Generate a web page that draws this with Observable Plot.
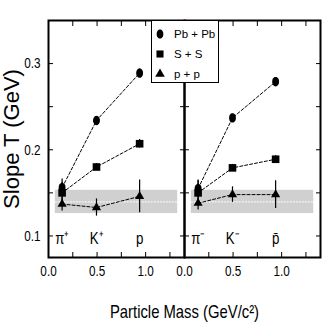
<!DOCTYPE html>
<html><head><meta charset="utf-8">
<script src="https://cdn.jsdelivr.net/npm/d3@7"></script>
<script src="https://cdn.jsdelivr.net/npm/@observablehq/plot@0.6"></script>
<style>
body{margin:0;background:#fff;}
#wrap{position:relative;width:327px;height:327px;font-family:"Liberation Sans",Arial,sans-serif;}
#legend{position:absolute;left:151px;top:20px;width:68px;height:63px;border:1.5px solid #000;background:#fff;box-sizing:border-box;}
#legend svg{display:block;}
</style></head><body><div id="wrap"></div>
<script>
const panels = ["plus", "minus"];
const particles = ["π⁺", "K⁺", "p", "π⁻", "K⁻", "p̄"];
const particlePanel = ["plus", "plus", "plus", "minus", "minus", "minus"];
const masses = [0.14, 0.494, 0.938, 0.14, 0.494, 0.938];
const systems = ["Pb + Pb", "S + S", "p + p"];
const pbpb = [0.156, 0.234, 0.289, 0.155, 0.237, 0.279];
const ss = [0.150, 0.180, 0.207, 0.150, 0.179, 0.189];
const pp = [0.137, 0.133, 0.146, 0.138, 0.148, 0.148];
const pbpbErr = [0.010, 0.004, 0.004, 0.010, 0.004, 0.005];
const ssErr = [0.012, 0.004, 0.005, 0.014, 0.004, 0.004];
const ppErr = [0.008, 0.010, 0.019, 0.008, 0.009, 0.016];
const bandLow = 0.126, bandHigh = 0.153;
const bandMassRange = [0.07, 1.33];
const yTickLabels = [0.1, 0.2, 0.3];
const yTicks = [0.1, 0.15, 0.2, 0.25, 0.3];
const xTickLabels = [0, 0.5, 1];
const xTicks = [0, 0.25, 0.5, 0.75, 1, 1.25];

const seriesVals = [pbpb, ss, pp];
const seriesErr = [pbpbErr, ssErr, ppErr];
const rows = [];
systems.forEach((s, si) => {
  masses.forEach((m, i) => {
    rows.push({system: s, panel: particlePanel[i], mass: m, T: seriesVals[si][i], err: seriesErr[si][i]});
  });
});
const labels = particles.map((p, i) => ({name: p, panel: particlePanel[i], mass: masses[i]}));
const band = panels.map(p => ({panel: p, x1: bandMassRange[0], x2: bandMassRange[1], y1: bandLow, y2: bandHigh}));

const font = '"Liberation Sans",Arial,sans-serif';

// vertically elongated ellipse, like the scanned Pb+Pb markers
const ellipse = {
  draw(context, size) {
    const r = Math.sqrt(size / Math.PI);
    const rx = r * 0.8, ry = r * 1.1;
    const n = 24;
    for (let k = 0; k <= n; k++) {
      const a = (k / n) * 2 * Math.PI;
      const px = rx * Math.cos(a), py = ry * Math.sin(a);
      if (k === 0) context.moveTo(px, py); else context.lineTo(px, py);
    }
    context.closePath();
  }
};

const chart = Plot.plot({
  width: 327, height: 327,
  marginLeft: 48, marginRight: 7, marginTop: 20, marginBottom: 70,
  style: {fontFamily: font, fontSize: "13px", color: "#000", background: "#fff"},
  fx: {domain: panels, padding: 0, axis: null},
  x: {domain: [0, 1.4]},
  y: {domain: [0.075, 0.35]},
  symbol: {domain: systems, range: [ellipse, "square", "triangle"]},
  marks: [
    Plot.rect(band, {x1: "x1", x2: "x2", y1: "y1", y2: "y2", fx: "panel", fill: "#d0d0d0"}),
    Plot.ruleY(band, {x1: "x1", x2: "x2", y: d => (d.y1 + d.y2) / 2, fx: "panel", stroke: "#fff", strokeWidth: 1, strokeDasharray: "2,1"}),
    Plot.line(rows, {x: "mass", y: "T", z: "system", fx: "panel", stroke: "#000", strokeWidth: 1, strokeDasharray: "3,2"}),
    Plot.ruleX(rows, {x: "mass", y1: d => d.T - d.err, y2: d => d.T + d.err, fx: "panel", stroke: "#000", strokeWidth: 1.2}),
    Plot.dot(rows, {filter: d => d.system !== "p + p", x: "mass", y: "T", symbol: "system", fx: "panel", fill: "#000", stroke: "none", r: 4.3}),
    Plot.dot(rows, {filter: d => d.system === "p + p", x: "mass", y: "T", symbol: "system", fx: "panel", fill: "#000", stroke: "none", r: 3.4}),
    Plot.text(labels, {x: "mass", y: 0.097, text: "name", fx: "panel", fontSize: 17, fill: "#000"}),
    Plot.frame({stroke: "#000", strokeWidth: 2}),
    Plot.axisY({anchor: "left", ticks: yTickLabels, tickSize: 0, tickPadding: 8, tickFormat: d3.format(".1f"), fontSize: 15, label: null}),
    Plot.axisY({anchor: "left", ticks: [], tickSize: 0, label: "Slope T (GeV)", labelAnchor: "center", labelArrow: "none", labelOffset: 45, fontSize: 22}),
    Plot.axisY({anchor: "left", ticks: yTicks, tickSize: -5, tickFormat: () => "", label: null, facetAnchor: null}),
    Plot.axisY({anchor: "right", ticks: yTicks, tickSize: -5, tickFormat: () => "", label: null, facetAnchor: null}),
    Plot.axisX({anchor: "bottom", ticks: xTickLabels, tickSize: 0, tickPadding: 8, fontSize: 15, label: null, facetAnchor: null}),
    Plot.axisX({anchor: "bottom", ticks: xTicks, tickSize: -5, tickFormat: () => "", label: null, facetAnchor: null}),
    Plot.axisX({anchor: "top", ticks: xTicks, tickSize: -5, tickFormat: () => "", label: null, facetAnchor: null}),
    Plot.axisFx({anchor: "bottom", tickSize: 0, tickFormat: () => "", label: "Particle Mass (GeV/c²)", labelAnchor: "center", labelArrow: "none", labelOffset: 60, fontSize: 19})
  ]
});
const wrap = document.getElementById("wrap");
wrap.appendChild(chart);

// condense the lettering to mimic the narrow typeface of the original
d3.select(chart).selectAll("text").each(function() {
  const t = this.textContent;
  if (!t || !t.trim()) return;
  const f = t.startsWith("Slope") ? 1.0 : 0.78;
  if (f === 1) return;
  const L = this.getComputedTextLength();
  this.setAttribute("textLength", (L * f).toFixed(1));
  this.setAttribute("lengthAdjust", "spacingAndGlyphs");
});

// legend box
const leg = document.createElement("div");
leg.id = "legend";
wrap.appendChild(leg);
const lsvg = d3.select(leg).append("svg").attr("width", 65).attr("height", 60);
const symTypes = [ellipse, d3.symbolSquare, d3.symbolTriangle];
const symSizes = [55, 50, 40];
systems.forEach((s, i) => {
  const cy = 13 + i * 20;
  lsvg.append("path").attr("d", d3.symbol(symTypes[i], symSizes[i])()).attr("transform", `translate(8,${cy})`).attr("fill", "#000");
  lsvg.append("text").attr("x", 22).attr("y", cy).attr("dy", "0.35em").attr("text-anchor", "start")
    .attr("font-family", font).attr("font-size", 11.5).text(s);
});
</script></body></html>
